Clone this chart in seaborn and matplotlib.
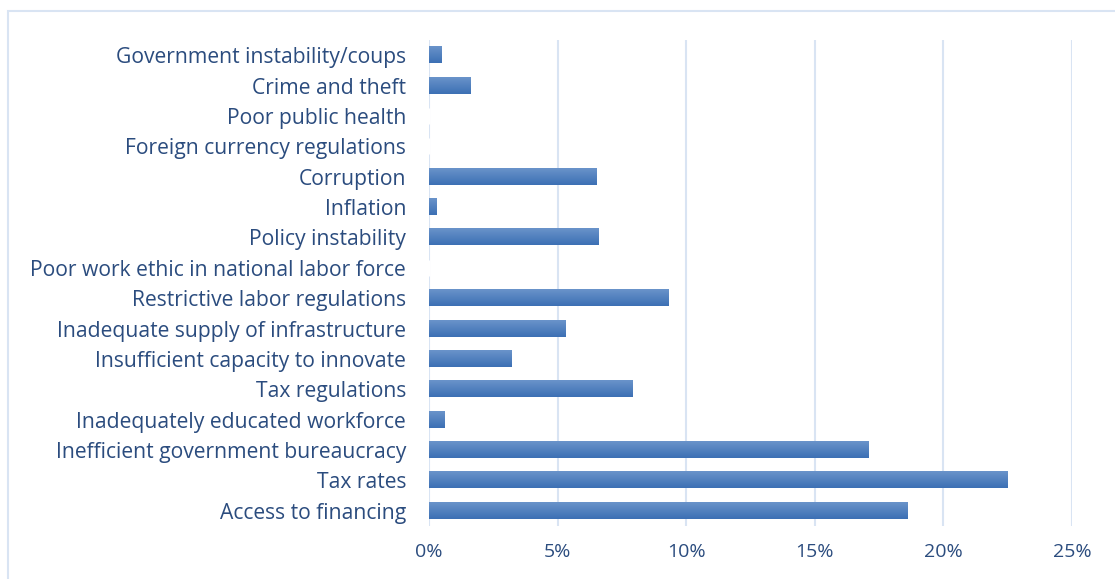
import matplotlib
matplotlib.use("Agg")
import matplotlib.pyplot as plt
import seaborn as sns
import numpy as np
import pandas as pd
from matplotlib.patches import Rectangle
from matplotlib.colors import LinearSegmentedColormap

categories = [
    "Government instability/coups",
    "Crime and theft",
    "Poor public health",
    "Foreign currency regulations",
    "Corruption",
    "Inflation",
    "Policy instability",
    "Poor work ethic in national labor force",
    "Restrictive labor regulations",
    "Inadequate supply of infrastructure",
    "Insufficient capacity to innovate",
    "Tax regulations",
    "Inadequately educated workforce",
    "Inefficient government bureaucracy",
    "Tax rates",
    "Access to financing",
]
values = [0.5, 1.6, 0.0, 0.0, 6.5, 0.3, 6.6, 0.0, 9.3, 5.3, 3.2, 7.9, 0.6, 17.1, 22.5, 18.6]
xticks = [0, 5, 10, 15, 20, 25]
xtick_labels = ["0%", "5%", "10%", "15%", "20%", "25%"]

df = pd.DataFrame({"category": categories, "value": values})

sns.set_theme(style="white")
plt.rcParams["font.family"] = ["Open Sans", "DejaVu Sans"]

text_color = "#2b4c7e"
grid_color = "#d9e4f3"

fig = plt.figure(figsize=(11.15, 5.79), dpi=100)
ax = fig.add_axes([429 / 1115, 1 - 526 / 579, (1072 - 429) / 1115, (526 - 40) / 579])

sns.barplot(data=df, x="value", y="category", orient="h", color="#4f7fbf",
            width=0.53, ax=ax, saturation=1)

# gradient fill for bars
cmap = LinearSegmentedColormap.from_list("g", ["#6a93ca", "#3c70b4"])
grad = np.linspace(0, 1, 64).reshape(-1, 1)
for p in list(ax.patches):
    x, y = p.get_x(), p.get_y()
    w, h = p.get_width(), p.get_height()
    if w <= 0:
        continue
    p.set_alpha(0)
    ax.imshow(grad, cmap=cmap, extent=[x, x + w, y + h, y], aspect="auto",
              interpolation="bilinear", zorder=3)

ax.set_xlim(0, 25)
ax.set_ylim(len(categories) - 0.5, -0.5)
ax.set_xticks(xticks)
ax.set_xticklabels(xtick_labels)
ax.set_xlabel("")
ax.set_ylabel("")
for s in ax.spines.values():
    s.set_visible(False)
ax.grid(axis="x", color=grid_color, linewidth=1.5, zorder=0)
ax.grid(axis="y", visible=False)
ax.set_axisbelow(True)
ax.tick_params(axis="y", length=0, pad=16.5, labelsize=15.2, labelcolor=text_color)
ax.tick_params(axis="x", length=0, pad=12, labelsize=14, labelcolor=text_color)

# outer chart border
fig.add_artist(Rectangle((8 / 1115, -0.05), 1.1, 1 - 10.5 / 579 + 0.05,
                         transform=fig.transFigure, fill=False,
                         edgecolor=grid_color, linewidth=1.5))

fig.savefig("out.png", dpi=100)
